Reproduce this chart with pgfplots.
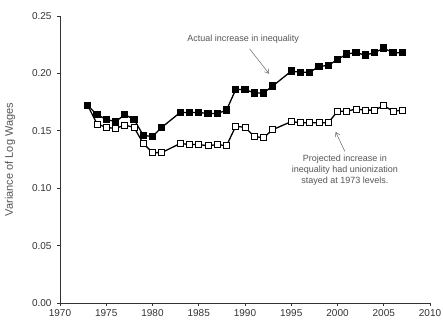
\documentclass[border=0pt]{standalone}
\usepackage{pgfplots}
\pgfplotsset{compat=1.18}
\usepackage{fontspec}
\setmainfont{Liberation Sans}
\usetikzlibrary{arrows.meta}
\definecolor{txt}{HTML}{555555}
\definecolor{tick}{HTML}{333333}
\begin{document}
\begin{tikzpicture}
\useasboundingbox (-60pt,-20pt) rectangle (383pt,303pt);
\begin{axis}[
  at={(0pt,0pt)}, anchor=south west,
  scale only axis, width=370pt, height=287pt,
  xmin=1970, xmax=2010, ymin=0, ymax=0.25,
  xtick={1970,1975,...,2010},
  ytick={0,0.05,0.10,0.15,0.20,0.25},
  axis x line*=bottom, axis y line*=left,
  axis line style={line width=0.8pt, color=black!80},
  tick align=outside, major tick length=3pt,
  tick style={color=black!80, line width=0.6pt},
  /pgf/number format/assume math mode=true,
  x tick label style={/pgf/number format/1000 sep={}, font=\fontsize{10}{12}\selectfont, text=tick},
  y tick label style={/pgf/number format/fixed, /pgf/number format/fixed zerofill, /pgf/number format/precision=2, font=\fontsize{10}{12}\selectfont, text=tick, xshift=-2pt},
  ylabel={Variance of Log Wages},
  ylabel style={font=\fontsize{11}{13}\selectfont, text=txt, at={(axis description cs:-0.135,0.5)}, anchor=center},
  clip=false,
]
\addplot[black, line width=1.3pt, mark=square*, mark size=3pt, mark options={fill=white, line width=0.8pt, solid}] coordinates {
(1973,0.172)(1974,0.156)(1975,0.153)(1976,0.152)(1977,0.155)(1978,0.153)(1979,0.139)(1980,0.131)(1981,0.131)
(1983,0.139)(1984,0.138)(1985,0.138)(1986,0.137)(1987,0.138)(1988,0.137)(1989,0.154)(1990,0.153)(1991,0.145)(1992,0.144)(1993,0.151)
(1995,0.158)(1996,0.157)(1997,0.157)(1998,0.157)(1999,0.157)(2000,0.167)(2001,0.167)(2002,0.169)(2003,0.168)(2004,0.168)(2005,0.172)(2006,0.167)(2007,0.168)
};
\addplot[black, line width=1.3pt, mark=square*, mark size=3pt, mark options={fill=black, solid}] coordinates {
(1973,0.172)(1974,0.164)(1975,0.160)(1976,0.158)(1977,0.164)(1978,0.160)(1979,0.146)(1980,0.145)(1981,0.153)
(1983,0.166)(1984,0.166)(1985,0.166)(1986,0.165)(1987,0.165)(1988,0.168)(1989,0.186)(1990,0.186)(1991,0.183)(1992,0.183)(1993,0.189)
(1995,0.202)(1996,0.201)(1997,0.201)(1998,0.206)(1999,0.207)(2000,0.212)(2001,0.217)(2002,0.218)(2003,0.216)(2004,0.218)(2005,0.222)(2006,0.218)(2007,0.218)
};
\node[font=\fontsize{9}{10}\selectfont, text=txt] at (axis cs:1989.8,0.230) {Actual increase in inequality};
\draw[-{Straight Barb[length=4pt,width=5pt]}, color=black!60, line width=0.5pt] (axis cs:1990.5,0.2214) -- (axis cs:1992.6,0.1997);
\node[font=\fontsize{9}{11}\selectfont, text=txt, align=center] at (axis cs:2000.8,0.1155) {Projected increase in\\inequality had unionization\\stayed at 1973 levels.};
\draw[-{Straight Barb[length=4pt,width=5pt]}, color=black!60, line width=0.5pt] (axis cs:2000.8,0.132) -- (axis cs:1999.8,0.149);
\end{axis}
\end{tikzpicture}
\end{document}
